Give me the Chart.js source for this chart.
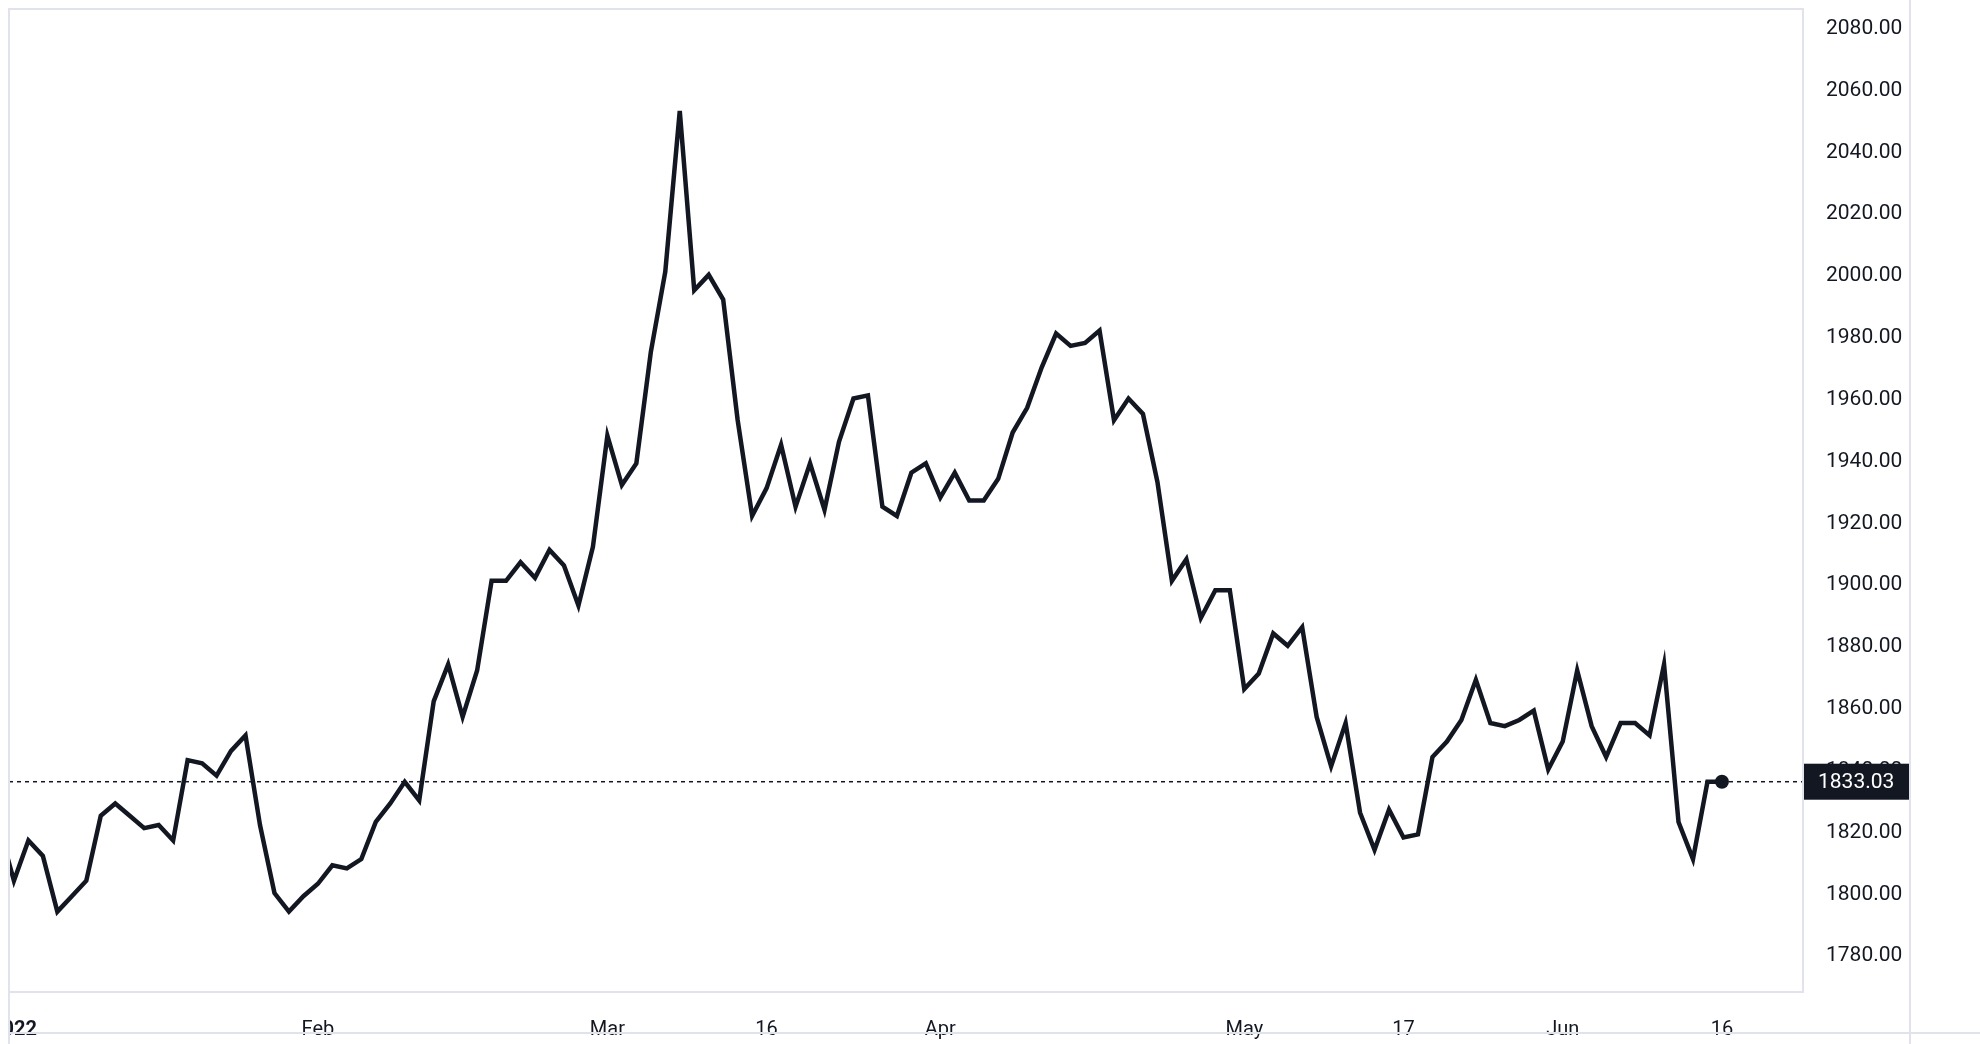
<!DOCTYPE html>
<html><head><meta charset="utf-8">
<script src="https://cdn.jsdelivr.net/npm/chart.js@4"></script>
<style>html,body{margin:0;padding:0;background:#fff}#w{width:1980px;height:1044px}</style>
</head><body><div id="w"><canvas id="c"></canvas></div>
<script>
const startIndex = -1;
const prices = [1818,1801,1814,1809,1791,1796,1801,1822,1826,1822,1818,1819,1814,1840,1839,1835,1843,1848,1819,1797,1791,1796,1800,1806,1805,1808,1820,1826,1833,1827,1859,1871,1854,1869,1898,1898,1904,1899,1908,1903,1890,1909,1945,1929,1936,1972,1998,2050,1992,1997,1989,1950,1919,1928,1942,1922,1936,1921,1943,1957,1958,1922,1919,1933,1936,1925,1933,1924,1924,1931,1946,1954,1967,1978,1974,1975,1979,1950,1957,1952,1930,1898,1905,1886,1895,1895,1863,1868,1881,1877,1883,1854,1838,1852,1823,1811,1824,1815,1816,1841,1846,1853,1866,1852,1851,1853,1856,1837,1846,1869,1851,1841,1852,1852,1848,1871,1820,1808,1833,1833.03];
const tickIndex = [0,21,41,52,64,85,96,107,118];
const tickLabels = ['2022','Feb','Mar','16','Apr','May','17','Jun','16'];
const yTicks = [1780,1800,1820,1840,1860,1880,1900,1920,1940,1960,1980,2000,2020,2040,2060,2080];
const lastPrice = 1833.03;

const pts = prices.map((v,i)=>({x:startIndex+i,y:v}));
const ink = '#131722';
const deco = {
  id:'deco',
  afterDraw(ch){
    const {ctx,chartArea:a}=ch;
    ctx.save();
    ctx.fillStyle='#fff';ctx.fillRect(0,a.bottom+2,a.left-1,60);
    ctx.strokeStyle='#e0e3eb';ctx.lineWidth=2;
    ctx.strokeRect(a.left,a.top,a.right-a.left,a.bottom-a.top);
    ctx.beginPath();ctx.moveTo(a.left,1033);ctx.lineTo(1980,1033);ctx.moveTo(a.left,a.bottom);ctx.lineTo(a.left,1044);
    ctx.moveTo(1910,0);ctx.lineTo(1910,1044);ctx.stroke();
    ctx.restore();
  },
  afterDatasetsDraw(ch){
    const {ctx,chartArea:a,scales:{y}}=ch;
    const py=y.getPixelForValue(lastPrice);
    ctx.save();ctx.strokeStyle=ink;ctx.lineWidth=1.5;ctx.setLineDash([4,4]);
    ctx.beginPath();ctx.moveTo(a.left,py);ctx.lineTo(a.right,py);ctx.stroke();
    ctx.setLineDash([]);
    ctx.fillStyle=ink;ctx.fillRect(a.right-1,py-18,108,36);
    ctx.fillStyle='#fff';ctx.font='21px Roboto';ctx.textBaseline='middle';ctx.textAlign='left';
    ctx.fillText(lastPrice.toFixed(2),1818,py+1);
    ctx.restore();
  }
};
new Chart(document.getElementById('c'),{
  type:'line',
  data:{datasets:[{data:pts,borderColor:ink,borderWidth:4.5,tension:0,
    pointRadius:c=>c.dataIndex===pts.length-1?7:0,pointBackgroundColor:ink,pointBorderWidth:0,pointHoverRadius:0}]},
  options:{responsive:true,maintainAspectRatio:false,animation:false,
    layout:{padding:{left:9,top:9,right:70,bottom:0}},
    plugins:{legend:{display:false},tooltip:{enabled:false}},
    scales:{
      x:{type:'linear',min:-0.34,max:123.6,grid:{display:false},border:{display:false},
        afterBuildTicks:s=>{s.ticks=tickIndex.map(v=>({value:v}));},
        afterFit:s=>{s.height=52;s.paddingLeft=0;s.paddingRight=0;},
        ticks:{autoSkip:false,maxRotation:0,padding:18,color:ink,
          font:c=>({family:'Roboto',size:20,weight:c.index===0?'bold':'normal'}),
          callback:(v,i)=>tickLabels[i]}},
      y:{position:'right',min:1765,max:2083,grid:{display:false},border:{display:false},
        afterBuildTicks:s=>{s.ticks=yTicks.map(v=>({value:v}));},
        afterFit:s=>{s.width=107;s.paddingTop=0;s.paddingBottom=0;},
        ticks:{padding:15,align:'start',crossAlign:'near',color:ink,font:{family:'Roboto',size:21},callback:v=>v.toFixed(2)}}
    }},
  plugins:[deco]
});
</script></body></html>
